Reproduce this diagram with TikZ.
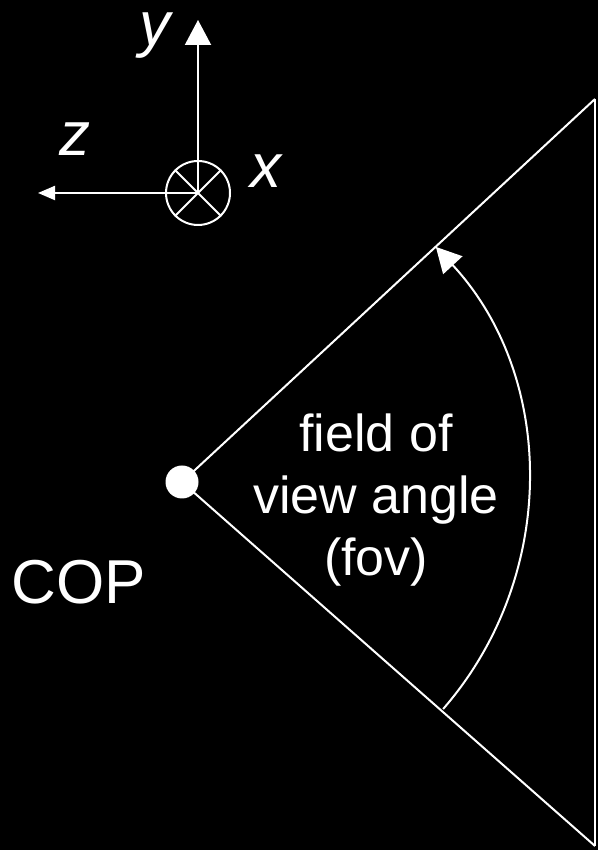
\documentclass[tikz,border=0pt]{standalone}
\usepackage{fontspec}
\setmainfont{Liberation Sans}
\usetikzlibrary{arrows.meta}
\begin{document}
\begin{tikzpicture}[x=1pt,y=1pt,
    ln/.style={draw=white,line width=2pt},
    ax/.style={draw=white,line width=2pt,-{Triangle[length=25pt,width=26pt]}},
    lbl/.style={text=white,inner sep=0pt,font=\fontsize{62}{62}\selectfont\itshape},
    txt/.style={text=white,inner sep=0pt,font=\fontsize{52}{62}\selectfont}
]
    \fill[black] (0,0) rectangle (598,850);
    \useasboundingbox (0,0) rectangle (598,850);

    % axes
    \node[circle,draw=white,line width=2pt,minimum size=64pt,inner sep=0pt] (xc) at (198,657) {};
    \draw[ln] (xc.45)--(xc.225) (xc.135)--(xc.-45);
    \coordinate (ytip) at (198,830);
    \coordinate (ztip) at (38,657);
    \draw[ax] (xc.center)--(ytip);
    \draw[ln,-{Triangle[length=17pt,width=14pt]}] (xc.center)--(ztip);
    \node[lbl,anchor=base] (ylab) at (155,804) {y};
    \node[lbl,anchor=base] (zlab) at (75,694) {z};
    \node[lbl,anchor=base] (xlab) at (266,662) {x};

    % view volume
    \node[circle,fill=white,minimum size=33pt,inner sep=0pt] (cop) at (182,368) {};
    \coordinate (top) at (595,751);
    \coordinate (bot) at (595,4);
    \draw[ln] (cop.center)--(top);
    \draw[ln] (cop.center)--(bot);
    \draw[white,line width=1.5pt] (top)--(bot);
    \draw[ax] ([shift={(-41:346)}]cop.center) arc[start angle=-41,end angle=42.8,radius=346];

    \node[txt,anchor=base,font=\fontsize{62}{62}\selectfont] (cpl) at (79,246) {COP};
    \node[txt,align=center] (fov) at (376,350) {field of\\view angle\\(fov)};
\end{tikzpicture}
\end{document}
